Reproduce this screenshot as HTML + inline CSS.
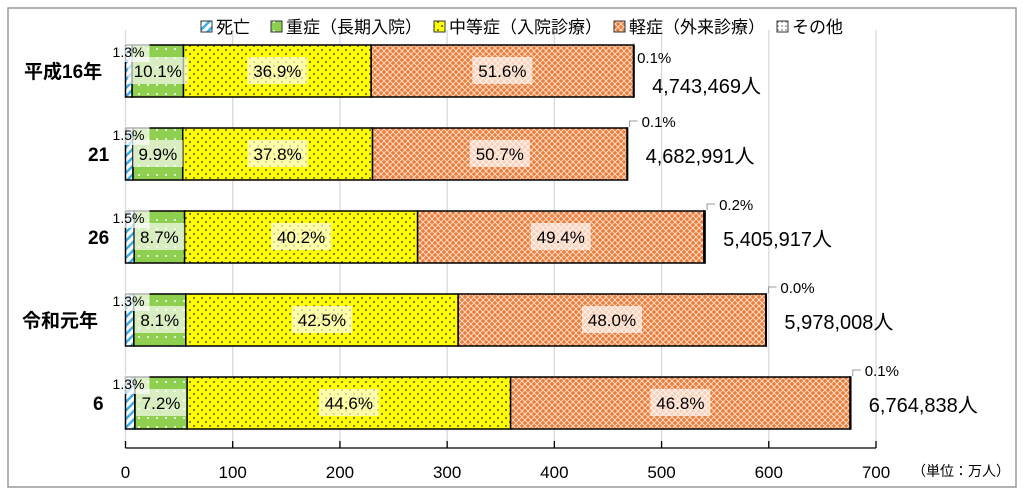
<!DOCTYPE html>
<html><head><meta charset="utf-8"><style>
html,body{margin:0;padding:0;background:#fff;width:1024px;height:493px;overflow:hidden}
svg{display:block;font-family:"Liberation Sans","Noto Sans CJK JP",sans-serif}
</style></head><body>
<svg id="chart" width="1024" height="493">
<defs>
<pattern id="pDeath" width="6" height="6" patternUnits="userSpaceOnUse" patternTransform="rotate(45)"><rect width="6" height="6" fill="#fff"/><rect width="2.5" height="6" fill="#3ab0e8"/></pattern>
<pattern id="pSevere" width="9" height="9" patternUnits="userSpaceOnUse"><rect width="9" height="9" fill="#8fcf4f"/><circle cx="4" cy="4" r="1" fill="#fff"/></pattern>
<pattern id="pModerate" width="8" height="8" patternUnits="userSpaceOnUse"><rect width="8" height="8" fill="#ffff00"/><circle cx="2" cy="2" r="0.9" fill="#222"/><circle cx="6" cy="6" r="0.9" fill="#222"/></pattern>
<pattern id="pMild" width="6" height="6" patternUnits="userSpaceOnUse"><rect width="6" height="6" fill="#ec7c38"/><path d="M0 3L3 0L6 3L3 6Z" fill="none" stroke="#fbdcc8" stroke-width="1"/></pattern>
<pattern id="pOther" width="4" height="4" patternUnits="userSpaceOnUse"><rect width="4" height="4" fill="#fff"/><circle cx="2" cy="2" r="0.8" fill="#666"/></pattern>
</defs>
<rect x="8" y="8" width="1008" height="479" fill="#fff" stroke="#9a9a9a" stroke-width="1.5"/>
<g id="grid"></g><g id="bars"></g><g id="labels"></g><g id="axis"></g><g id="legend"></g>
</svg>
<script>
const categories=["平成16年","21","26","令和元年","6"];
const totals=[4743469,4682991,5405917,5978008,6764838];
const pctDeath=[1.3,1.5,1.5,1.3,1.3];
const pctSevere=[10.1,9.9,8.7,8.1,7.2];
const pctModerate=[36.9,37.8,40.2,42.5,44.6];
const pctMild=[51.6,50.7,49.4,48.0,46.8];
const pctOther=[0.1,0.1,0.2,0.0,0.1];
const ticks=[0,100,200,300,400,500,600,700];
const seriesNames=["死亡","重症（長期入院）","中等症（入院診療）","軽症（外来診療）","その他"];
const fills=["url(#pDeath)","url(#pSevere)","url(#pModerate)","url(#pMild)","url(#pOther)"];
const NS="http://www.w3.org/2000/svg";
const x0=125.5,x1=876,yTop=30,rowH=83,barH=52,firstC=71;
const xs=v=>x0+v/700*(x1-x0);
const yc=i=>firstC+i*rowH;
function mk(tag,attrs,parent,text){const e=document.createElementNS(NS,tag);for(const k in attrs)e.setAttribute(k,attrs[k]);if(text!==undefined)e.textContent=text;parent.appendChild(e);return e;}
const grid=document.getElementById('grid'),bars=document.getElementById('bars'),labels=document.getElementById('labels'),axis=document.getElementById('axis'),legend=document.getElementById('legend');
ticks.forEach(t=>{
 const g=mk('line',{x1:xs(t),x2:xs(t),y1:yTop,y2:448,stroke:'#d9d9d9','stroke-width':1.3},grid);
 
 
 const tk=mk('line',{x1:xs(t),x2:xs(t),y1:441,y2:448,stroke:'#000','stroke-width':1.3},axis);
 
 
 const tl=mk('text',{x:xs(t),y:478,'text-anchor':'middle','font-size':17},axis,String(t));
 
 
});
const ax=mk('line',{x1:x0,x2:x1,y1:448,y2:448,stroke:'#000','stroke-width':1.3},axis);


const unit=mk('text',{x:912,y:476,'font-size':14},axis,'（単位：万人）');


categories.forEach((c,i)=>{
 const man=totals[i]/10000;
 const pcts=[pctDeath[i],pctSevere[i],pctModerate[i],pctMild[i],pctOther[i]];
 let acc=0;const y=yc(i)-barH/2;
 const cl=mk('text',{x:i==0?24:(i==3?22:0),y:yc(i)+7,'font-size':19,'font-weight':'bold'},labels,c);
 if(i==1||i==2){cl.setAttribute('x',88);} if(i==4){cl.setAttribute('x',93);}
 
 
 pcts.forEach((p,k)=>{
  const v=man*p/100;const xa=xs(acc),xb=xs(acc+v);acc+=v;
  const r=mk('rect',{x:xa,y:y,width:Math.max(xb-xa,0.5),height:barH,fill:fills[k],stroke:'#000','stroke-width':1.5},bars);
  
  
  if(k>=1&&k<=3){
   const t=p.toFixed(1)+'%';const w=t.length*10+10;const cx=(xa+xb)/2;
   const bx=mk('rect',{x:cx-w/2,y:yc(i)-14,width:w,height:27,fill:'#fff','fill-opacity':0.65},labels);
   
   
   const tl=mk('text',{x:cx,y:yc(i)+6,'text-anchor':'middle','font-size':17},labels,t);
   
   
  }
 });
 const dl=mk('rect',{x:xs(0)-16,y:y-2,width:40,height:19,fill:'#fff','fill-opacity':0.7},labels);
 
 
 const dt=mk('text',{x:xs(0)+3,y:y+12,'text-anchor':'middle','font-size':14},labels,pctDeath[i].toFixed(1)+'%');
 
 
 const xe=xs(man);
 const ld=mk('path',{d:i==0?`M${xe} ${y} L${xe} ${y-2}`:`M${xe+2} ${y-1} L${xe+2} ${y-7} L${xe+10} ${y-7}`,fill:'none',stroke:'#999','stroke-width':1},labels);
 
 
 const ot=mk('text',{x:i==0?xe+3:xe+14,y:i==0?y+18:y-1,'font-size':15},labels,pctOther[i].toFixed(1)+'%');
 
 
 const tt=mk('text',{x:xe+(i==0?18:18),y:yc(i)+(i==0?22:9),'font-size':20},labels,totals[i].toLocaleString('en-US')+'人');
 
 
});
let lx=201;
seriesNames.forEach((n,k)=>{
 const sw=mk('rect',{x:lx,y:21,width:11,height:11,fill:fills[k],stroke:'#333','stroke-width':1},legend);
 
 
 const t=mk('text',{x:lx+15,y:33,'font-size':17},legend,n);
 
 
 lx+=16+n.length*17+(k==0?20:11);
});
</script>
</body></html>
